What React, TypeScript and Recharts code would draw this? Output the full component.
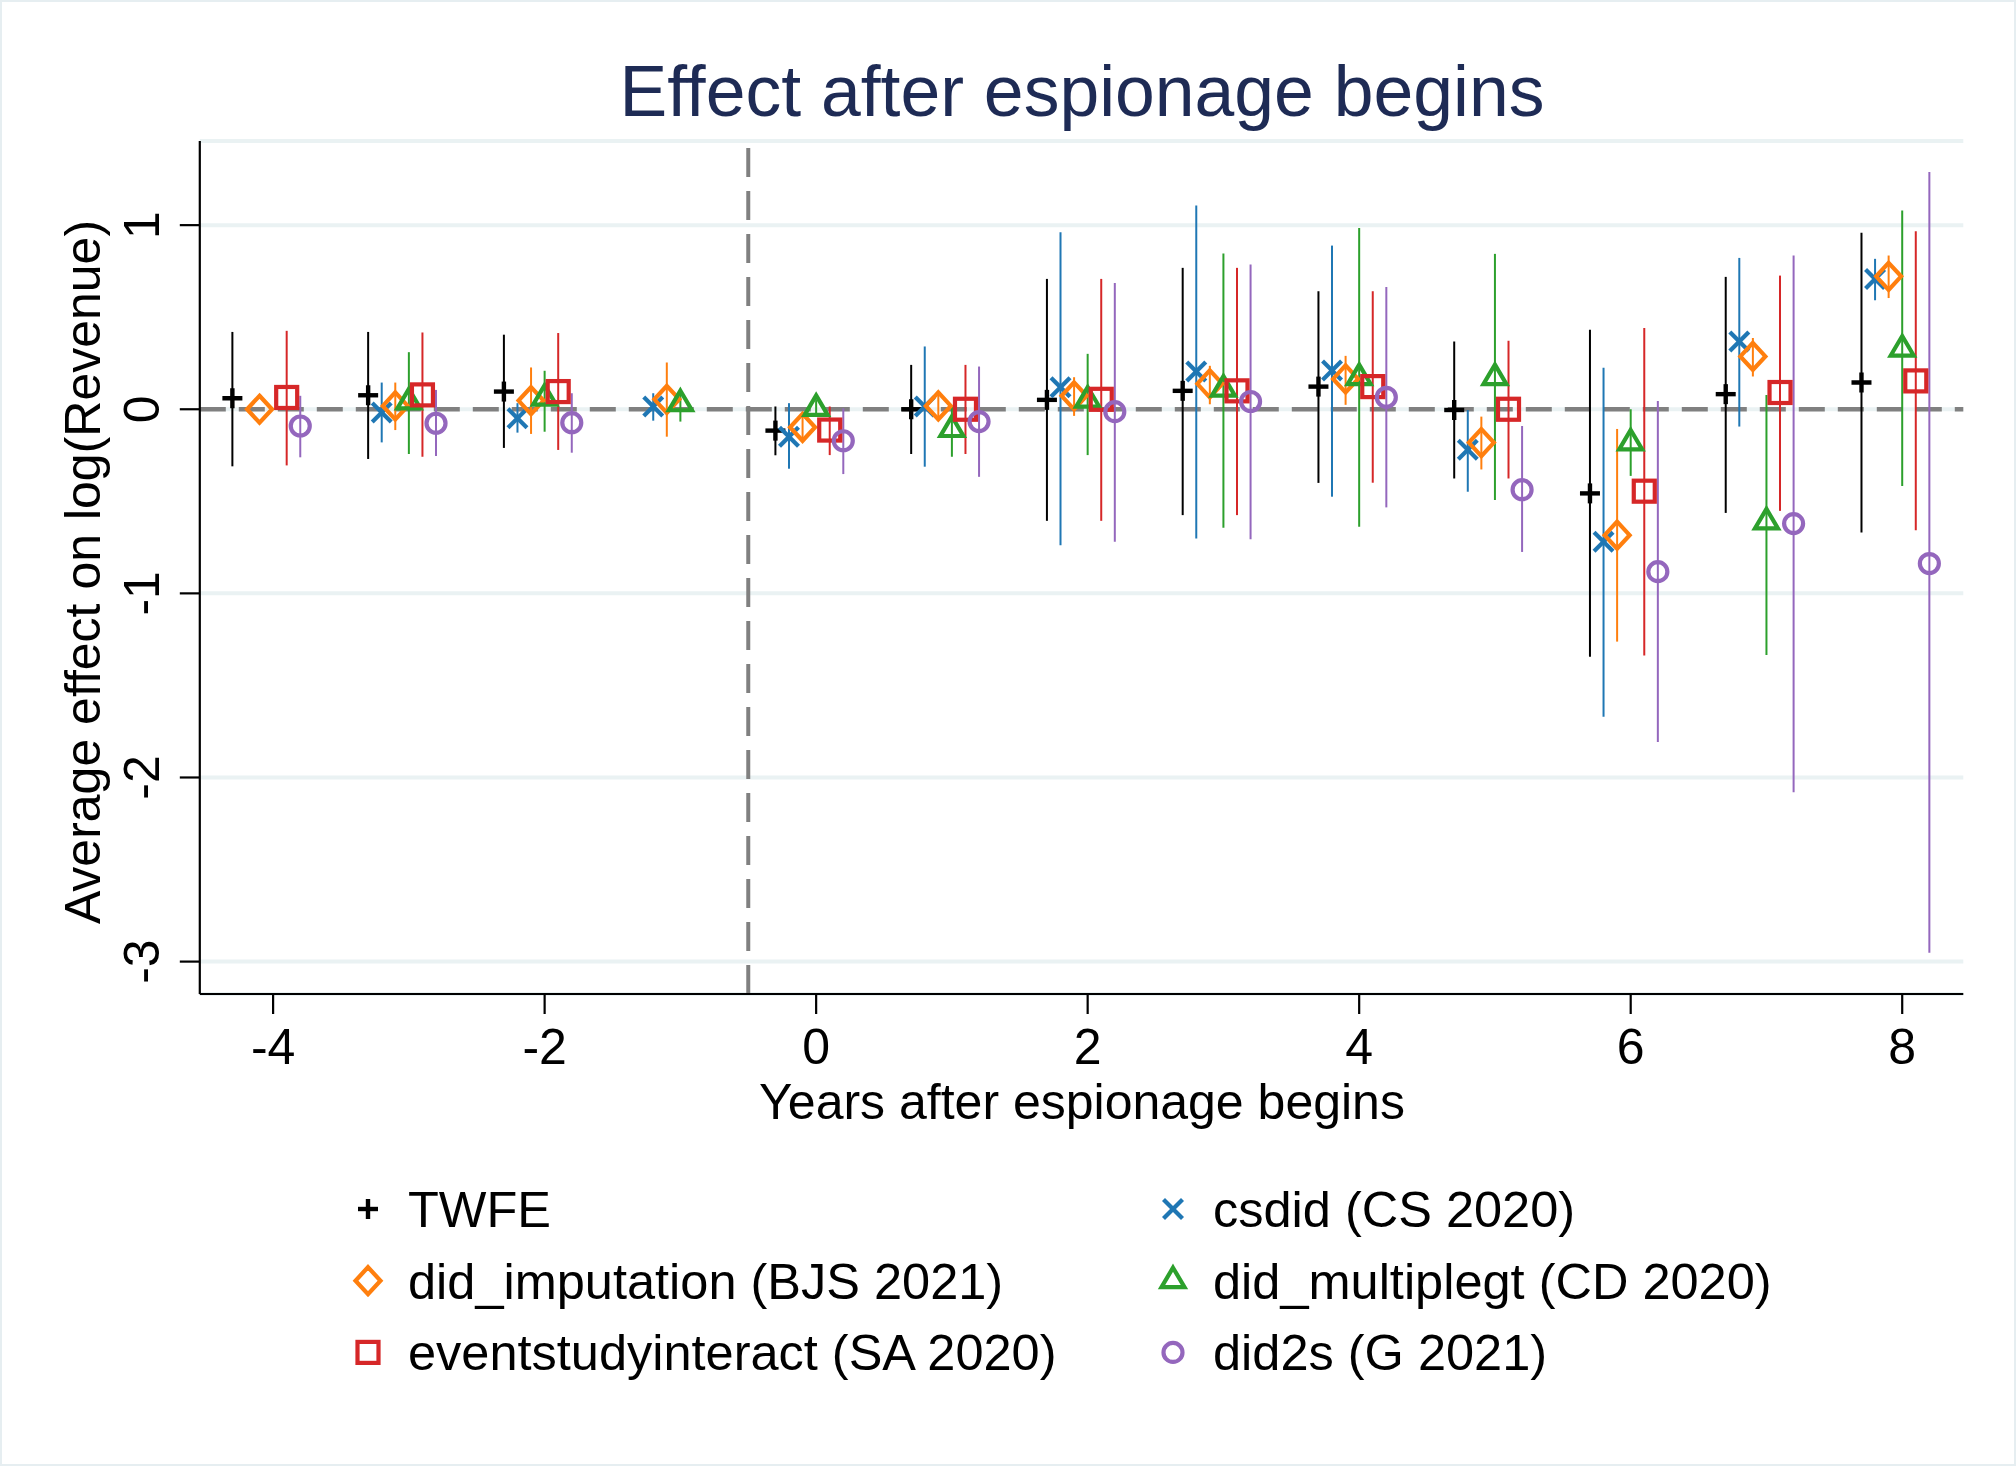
import React from "react";
import {
  CartesianGrid,
  ErrorBar,
  ReferenceLine,
  Scatter,
  ScatterChart,
  XAxis,
  YAxis,
} from "recharts";

// Event-study estimates by year relative to the start of espionage.
// null = the estimator reports nothing for that period.
const periods = [-4, -3, -2, -1, 0, 1, 2, 3, 4, 5, 6, 7, 8];

const twfeCoef = [0.06, 0.076, 0.096, null, -0.116, 0.0, 0.051, 0.1, 0.123, -0.004, -0.457, 0.082, 0.145];
const twfeLo = [-0.31, -0.27, -0.21, null, -0.25, -0.243, -0.606, -0.575, -0.4, -0.376, -1.344, -0.563, -0.67];
const twfeHi = [0.42, 0.42, 0.405, null, 0.015, 0.241, 0.708, 0.768, 0.641, 0.368, 0.432, 0.719, 0.958];

const csCoef = [null, -0.018, -0.049, 0.015, -0.149, 0.015, 0.12, 0.205, 0.21, -0.22, -0.72, 0.368, 0.708];
const csLo = [null, -0.18, -0.127, -0.062, -0.323, -0.312, -0.739, -0.702, -0.475, -0.448, -1.67, -0.094, 0.592];
const csHi = [null, 0.145, 0.033, 0.087, 0.033, 0.341, 0.962, 1.107, 0.889, -0.004, 0.226, 0.822, 0.817];

const bjsCoef = [0.0, 0.018, 0.047, 0.054, -0.098, 0.018, 0.073, 0.138, 0.165, -0.181, -0.684, 0.287, 0.722];
const bjsLo = [null, -0.113, -0.134, -0.149, -0.17, -0.058, -0.036, 0.027, 0.024, -0.327, -1.262, 0.178, 0.604];
const bjsHi = [null, 0.145, 0.227, 0.254, -0.03, 0.096, 0.174, 0.236, 0.29, -0.04, -0.107, 0.387, 0.835];

const cdCoef = [null, 0.04, 0.06, 0.03, 0.005, -0.11, 0.05, 0.109, 0.172, 0.172, -0.183, -0.612, 0.327];
const cdLo = [null, -0.243, -0.122, -0.067, -0.04, -0.258, -0.249, -0.644, -0.638, -0.493, -0.362, -1.335, -0.417];
const cdHi = [null, 0.31, 0.209, 0.087, 0.05, 0.018, 0.301, 0.846, 0.985, 0.844, 0.0, 0.078, 1.08];

const saCoef = [0.064, 0.078, 0.096, null, -0.113, 0.0, 0.054, 0.1, 0.123, 0.0, -0.445, 0.091, 0.154];
const saLo = [-0.305, -0.258, -0.221, null, -0.249, -0.243, -0.606, -0.575, -0.399, -0.376, -1.338, -0.552, -0.657];
const saHi = [0.426, 0.417, 0.414, null, 0.015, 0.241, 0.708, 0.768, 0.641, 0.372, 0.441, 0.726, 0.967];

const gCoef = [-0.091, -0.076, -0.073, null, -0.171, -0.067, -0.013, 0.042, 0.065, -0.437, -0.882, -0.621, -0.838];
const gLo = [-0.261, -0.254, -0.236, null, -0.352, -0.367, -0.72, -0.706, -0.533, -0.775, -1.807, -2.08, -2.952];
const gHi = [0.073, 0.105, 0.087, null, 0.005, 0.232, 0.686, 0.786, 0.664, -0.091, 0.045, 0.835, 1.289];

const xTicks = [-4, -2, 0, 2, 4, 6, 8];
const yTicks = [-3, -2, -1, 0, 1];

const FONT = "'Liberation Sans', Arial, Helvetica, sans-serif";

type Kind = "plus" | "x" | "diamond" | "triangle" | "square" | "circle";

const series = [
  { name: "TWFE", color: "#000000", kind: "plus" as Kind, shift: -0.3, coef: twfeCoef, lo: twfeLo, hi: twfeHi },
  { name: "csdid (CS 2020)", color: "#1f77b4", kind: "x" as Kind, shift: -0.2, coef: csCoef, lo: csLo, hi: csHi },
  { name: "did_imputation (BJS 2021)", color: "#ff7f0e", kind: "diamond" as Kind, shift: -0.1, coef: bjsCoef, lo: bjsLo, hi: bjsHi },
  { name: "did_multiplegt (CD 2020)", color: "#2ca02c", kind: "triangle" as Kind, shift: 0, coef: cdCoef, lo: cdLo, hi: cdHi },
  { name: "eventstudyinteract (SA 2020)", color: "#d62728", kind: "square" as Kind, shift: 0.1, coef: saCoef, lo: saLo, hi: saHi },
  { name: "did2s (G 2021)", color: "#9467bd", kind: "circle" as Kind, shift: 0.2, coef: gCoef, lo: gLo, hi: gHi },
];

// legend is laid out in two columns, Stata style
const legendOrder = [
  ["TWFE", "csdid (CS 2020)"],
  ["did_imputation (BJS 2021)", "did_multiplegt (CD 2020)"],
  ["eventstudyinteract (SA 2020)", "did2s (G 2021)"],
];

const SW = 4.2;

function Marker({ kind, color, cx, cy }: { kind: Kind; color: string; cx: number; cy: number }) {
  switch (kind) {
    case "plus":
      return (
        <g stroke={color} strokeWidth={4.4}>
          <line x1={cx - 10} y1={cy} x2={cx + 10} y2={cy} />
          <line x1={cx} y1={cy - 10} x2={cx} y2={cy + 10} />
        </g>
      );
    case "x":
      return (
        <g stroke={color} strokeWidth={SW}>
          <line x1={cx - 9.5} y1={cy - 9.5} x2={cx + 9.5} y2={cy + 9.5} />
          <line x1={cx - 9.5} y1={cy + 9.5} x2={cx + 9.5} y2={cy - 9.5} />
        </g>
      );
    case "diamond":
      return (
        <polygon
          points={`${cx},${cy - 13.5} ${cx + 12.5},${cy} ${cx},${cy + 13.5} ${cx - 12.5},${cy}`}
          fill="none"
          stroke={color}
          strokeWidth={SW}
        />
      );
    case "triangle":
      return (
        <polygon
          points={`${cx},${cy - 13} ${cx + 11.5},${cy + 6.5} ${cx - 11.5},${cy + 6.5}`}
          fill="none"
          stroke={color}
          strokeWidth={SW}
        />
      );
    case "square":
      return <rect x={cx - 10.5} y={cy - 10.5} width={21} height={21} fill="none" stroke={color} strokeWidth={SW} />;
    default:
      return <circle cx={cx} cy={cy} r={9.5} fill="none" stroke={color} strokeWidth={SW} />;
  }
}

function YTick(props: any) {
  const { x, y, payload } = props;
  return (
    <text
      x={x}
      y={y}
      transform={`rotate(-90 ${x} ${y})`}
      textAnchor="middle"
      fontSize={50}
      fontFamily={FONT}
      fill="#000"
    >
      {payload.value}
    </text>
  );
}

function toPoints(s: (typeof series)[number]) {
  const out: { x: number; y: number; err: [number, number] }[] = [];
  periods.forEach((t, i) => {
    const c = s.coef[i];
    if (c == null) return;
    const lo = s.lo[i] ?? c;
    const hi = s.hi[i] ?? c;
    out.push({ x: t + s.shift, y: c, err: [c - lo, hi - c] });
  });
  return out;
}

export default function App() {
  const W = 2016;
  const H = 1466;
  return (
    <div style={{ position: "absolute", left: 0, top: 0, width: W, height: H, background: "#fff" }}>
      <ScatterChart
        width={W}
        height={H}
        margin={{ top: 141, right: 52.7, bottom: 372, left: 99.8 }}
      >
        <CartesianGrid horizontal vertical={false} stroke="#eaf2f3" strokeWidth={4} />
        <XAxis
          type="number"
          dataKey="x"
          domain={[-4.54, 8.45]}
          ticks={xTicks}
          interval={0}
          allowDataOverflow
          height={100}
          tickSize={20}
          tickMargin={14}
          axisLine={{ stroke: "#000", strokeWidth: 2.2 }}
          tickLine={{ stroke: "#000", strokeWidth: 2.2 }}
          tick={{ fontSize: 50, fill: "#000", fontFamily: FONT }}
        />
        <YAxis
          type="number"
          dataKey="y"
          domain={[-3.176, 1.457]}
          ticks={yTicks}
          interval={0}
          allowDataOverflow
          width={100}
          tickSize={20}
          tickMargin={21}
          axisLine={{ stroke: "#000", strokeWidth: 2.2 }}
          tickLine={{ stroke: "#000", strokeWidth: 2.2 }}
          tick={<YTick />}
        />
        <ReferenceLine y={0} stroke="#808080" strokeWidth={4.5} strokeDasharray="26 13" />
        <ReferenceLine x={-0.5} stroke="#808080" strokeWidth={4} strokeDasharray="29 14" />
        {series.map((s) => (
          <Scatter
            key={s.name}
            name={s.name}
            data={toPoints(s)}
            isAnimationActive={false}
            shape={(p: any) => <Marker kind={s.kind} color={s.color} cx={p.cx} cy={p.cy} />}
          >
            <ErrorBar dataKey="err" direction="y" width={0} stroke={s.color} strokeWidth={2} />
          </Scatter>
        ))}
      </ScatterChart>

      <svg
        width={W}
        height={H}
        style={{ position: "absolute", left: 0, top: 0, pointerEvents: "none" }}
        fontFamily={FONT}
      >
        <rect x={1} y={1} width={W - 2} height={H - 2} fill="none" stroke="#e6eef1" strokeWidth={2} />
        <text x={1082} y={116} textAnchor="middle" fontSize={71.5} fill="#1e2b55">
          Effect after espionage begins
        </text>
        <text x={1082} y={1119} textAnchor="middle" fontSize={50} fill="#000">
          Years after espionage begins
        </text>
        <text
          x={100}
          y={572}
          transform="rotate(-90 100 572)"
          textAnchor="middle"
          fontSize={50}
          fill="#000"
        >
          Average effect on log(Revenue)
        </text>
        {legendOrder.map((row, r) =>
          row.map((name, c) => {
            const s = series.find((d) => d.name === name)!;
            const base = 1227 + r * 71.7;
            const mx = c === 0 ? 368 : 1173;
            return (
              <g key={name}>
                <Marker kind={s.kind} color={s.color} cx={mx} cy={base - 18} />
                <text x={mx + 40} y={base} fontSize={50.5} fill="#000">
                  {name}
                </text>
              </g>
            );
          })
        )}
      </svg>
    </div>
  );
}
